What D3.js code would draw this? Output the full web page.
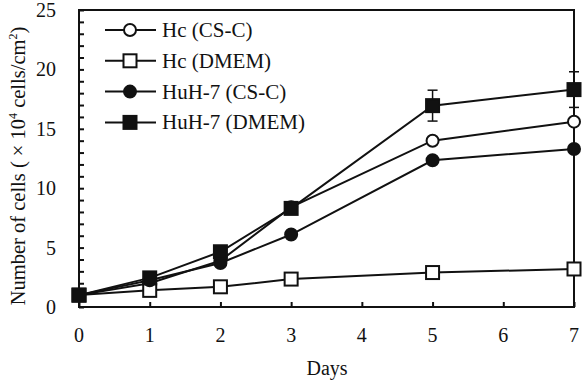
<!DOCTYPE html>
<html><head><meta charset="utf-8">
<script src="https://cdn.jsdelivr.net/npm/d3@7/dist/d3.min.js"></script>
<style>body{margin:0;background:#fff}svg{display:block}text{font-family:"Liberation Serif","Times New Roman",serif;fill:#111}</style>
</head><body><svg id="c" width="582" height="381"></svg>
<script>
const days = [0, 1, 2, 3, 5, 7];
const hcCSC = [1.0, 2.0, 3.9, 8.4, 14.0, 15.6];
const hcDMEM = [1.0, 1.4, 1.7, 2.35, 2.9, 3.2];
const huhCSC = [1.0, 2.25, 3.7, 6.1, 12.35, 13.3];
const huhDMEM = [1.0, 2.45, 4.65, 8.3, 16.95, 18.3];
const huhDMEMerr = [0, 0, 0, 0, 1.3, 1.5];
const seriesNames = ["Hc (CS-C)", "Hc (DMEM)", "HuH-7 (CS-C)", "HuH-7 (DMEM)"];
const xTicks = [0, 1, 2, 3, 4, 5, 6, 7];
const yTicks = [0, 5, 10, 15, 20, 25];

const series = [
  {name: seriesNames[0], vals: hcCSC, shape: "circle", fill: "#fff"},
  {name: seriesNames[1], vals: hcDMEM, shape: "square", fill: "#fff"},
  {name: seriesNames[2], vals: huhCSC, shape: "circle", fill: "#111"},
  {name: seriesNames[3], vals: huhDMEM, shape: "square", fill: "#111", err: huhDMEMerr}
];

const svg = d3.select("#c");
const L = 79, R = 574, T = 10, B = 307;
const x = d3.scaleLinear().domain([0, 7]).range([L, R]);
const y = d3.scaleLinear().domain([0, 25]).range([B, T]);

// frame
svg.append("rect").attr("x", L).attr("y", T).attr("width", R - L).attr("height", B - T)
  .attr("fill", "none").attr("stroke", "#111").attr("stroke-width", 2);

// y axis minor ticks inward
const yAx = svg.append("g").attr("transform", `translate(${L},0)`)
  .call(d3.axisRight(y).tickValues(d3.range(0, 26, 1)).tickSize(5).tickFormat(""));
yAx.select(".domain").remove();
yAx.selectAll("line").attr("stroke", "#111").attr("stroke-width", 2);
// y labels
svg.append("g").selectAll("text").data(yTicks).join("text")
  .attr("x", 56).attr("y", d => y(d)).attr("dy", "0.35em").attr("text-anchor", "end")
  .attr("font-size", 20).text(d => d);

// x axis ticks inward
const xAx = svg.append("g").attr("transform", `translate(0,${B})`)
  .call(d3.axisTop(x).tickValues(xTicks).tickSize(5).tickFormat(""));
xAx.select(".domain").remove();
xAx.selectAll("line").attr("stroke", "#111").attr("stroke-width", 2);
svg.append("g").selectAll("text").data(xTicks).join("text")
  .attr("x", d => x(d)).attr("y", 335).attr("dy", "0.35em").attr("text-anchor", "middle")
  .attr("font-size", 20).text(d => d);

svg.append("text").attr("x", 327).attr("y", 368).attr("dy", "0.35em").attr("text-anchor", "middle")
  .attr("font-size", 20).text("Days");

// y title
const yt = svg.append("text").attr("transform", "translate(25,166) rotate(-90)")
  .attr("text-anchor", "middle").attr("font-size", 20.5);
yt.append("tspan").text("Number of cells ( \u00d7 10");
yt.append("tspan").attr("font-size", 12).attr("dy", -8).text("4");
yt.append("tspan").attr("dy", 8).text(" cells/cm");
yt.append("tspan").attr("font-size", 12).attr("dy", -8).text("2");
yt.append("tspan").attr("dy", 8).text(")");

function marker(g, s, cx, cy) {
  if (s.shape === "circle") {
    g.append("circle").attr("cx", cx).attr("cy", cy).attr("r", 6)
      .attr("fill", s.fill).attr("stroke", "#111").attr("stroke-width", 2);
  } else {
    g.append("rect").attr("x", cx - 6.5).attr("y", cy - 6.5).attr("width", 13).attr("height", 13)
      .attr("fill", s.fill).attr("stroke", "#111").attr("stroke-width", 2);
  }
}

const line = d3.line().x((d, i) => x(days[i])).y(d => y(d));
const plot = svg.append("g");
series.forEach(s => {
  plot.append("path").attr("d", line(s.vals)).attr("fill", "none").attr("stroke", "#111").attr("stroke-width", 2);
});
series.forEach(s => {
  if (s.err) {
    s.vals.forEach((v, i) => {
      const e = s.err[i]; if (!e) return;
      const cx = x(days[i]);
      plot.append("line").attr("x1", cx).attr("x2", cx).attr("y1", y(v - e)).attr("y2", y(v + e)).attr("stroke", "#111").attr("stroke-width", 1.5);
      [v - e, v + e].forEach(t => plot.append("line").attr("x1", cx - 5).attr("x2", cx + 5).attr("y1", y(t)).attr("y2", y(t)).attr("stroke", "#111").attr("stroke-width", 1.5));
    });
  }
});
series.forEach(s => {
  s.vals.forEach((v, i) => marker(plot, s, x(days[i]), y(v)));
});

// legend
const lg = svg.append("g");
series.forEach((s, i) => {
  const ly = 30 + i * 30.8;
  lg.append("line").attr("x1", 105).attr("x2", 156).attr("y1", ly).attr("y2", ly).attr("stroke", "#111").attr("stroke-width", 2);
  marker(lg, s, 130, ly);
  lg.append("text").attr("x", 162).attr("y", ly).attr("dy", "0.33em").attr("font-size", 21).text(s.name);
});
</script></body></html>
